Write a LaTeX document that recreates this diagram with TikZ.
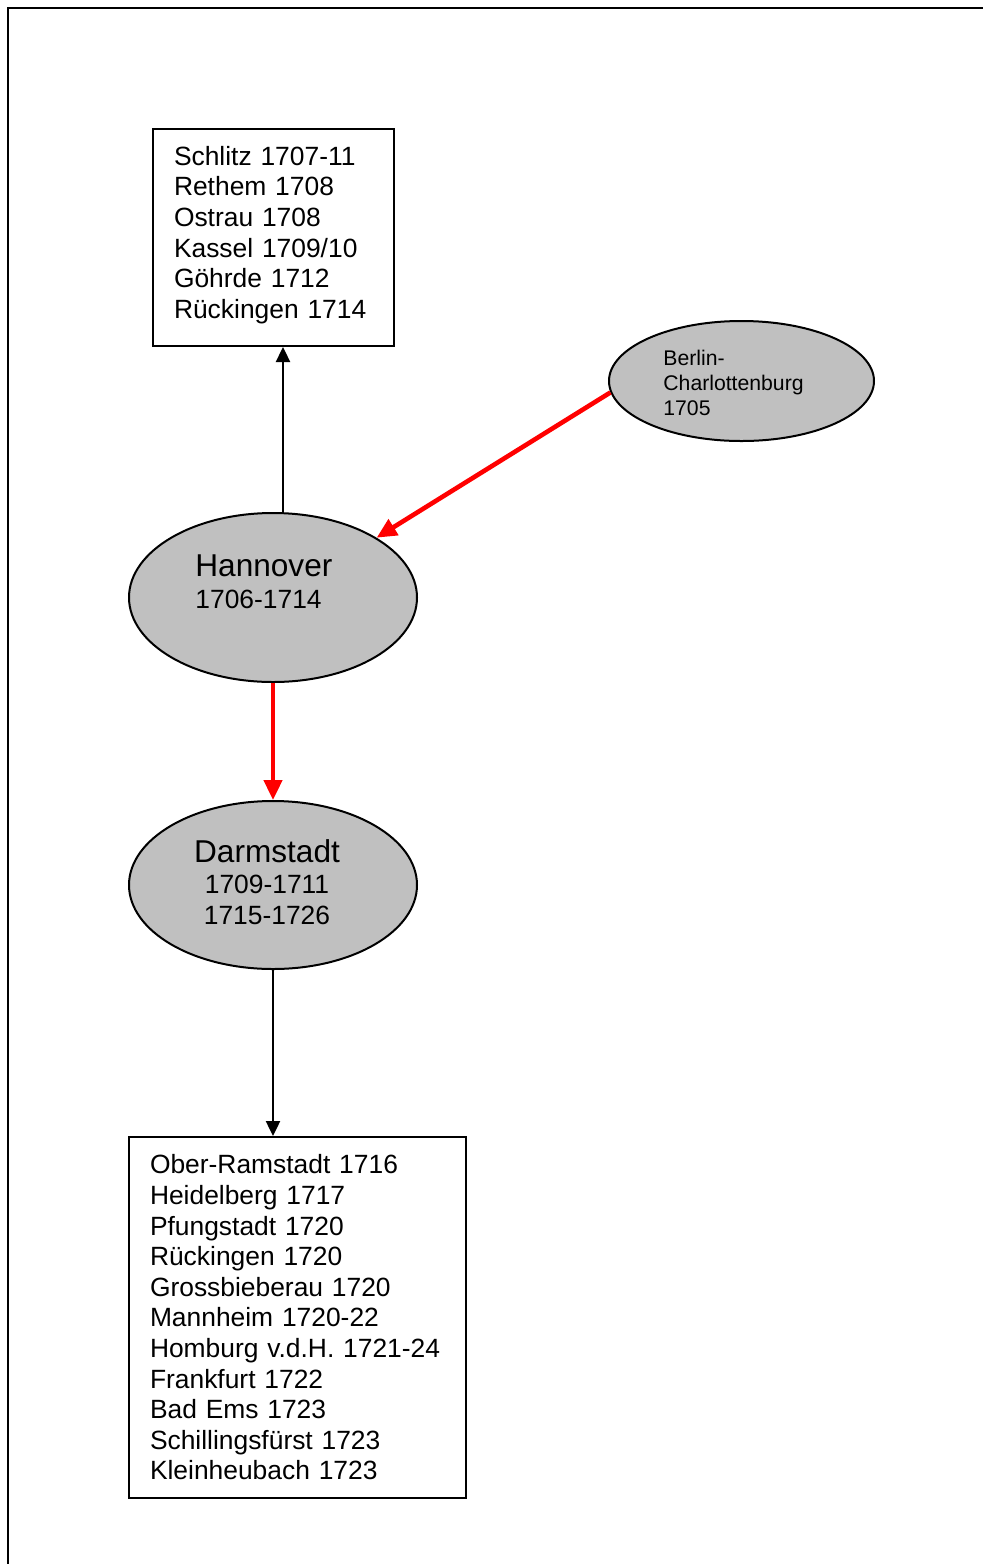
\documentclass[tikz,border=0pt]{standalone}
\usepackage{fontspec}
\setmainfont{Liberation Sans}
\usetikzlibrary{arrows.meta,positioning}
\usetikzlibrary{shapes.geometric}
\definecolor{oval}{HTML}{C0C0C0}

\begin{document}
\begin{tikzpicture}[x=0.5pt,y=-0.5pt]

	\tikzstyle{city}=[ellipse,draw=black,fill=oval,line width=1pt,inner sep=0pt]
	\tikzstyle{trips}=[rectangle,draw=black,line width=1pt,align=left,inner xsep=10.5pt,font=\fontsize{13.2pt}{15.3pt}\selectfont]
	\tikzstyle{cityname}=[inner sep=0pt,align=left,anchor=west]
	\tikzstyle{visit}=[-{Triangle[length=7.5pt,width=7pt]},line width=1.2pt,draw=black]
	\tikzstyle{move}=[-{Triangle[length=10pt,width=9pt]},line width=2.3pt,draw=red]

	\useasboundingbox (0,0) rectangle (983,1564);
	\draw [line width=1pt] (8,1564) -- (8,8) -- (983,8);

	\node [city,minimum width=144pt,minimum height=84.5pt] (0) at (273,597.5) {};
	\node [trips,text width=99.5pt,minimum height=108.5pt] (1) at (273.5,237.5)
		{Schlitz 1707-11\\Rethem 1708\\Ostrau 1708\\Kassel 1709/10\\Göhrde 1712\\Rückingen 1714\par\kern2.5pt\hrule height 0pt};
	\node [city,minimum width=132.5pt,minimum height=60pt] (2) at (741.5,381) {};
	\node [city,minimum width=144pt,minimum height=84pt] (3) at (273,885) {};
	\node [trips,text width=147.5pt,minimum height=180.5pt] (4) at (297.5,1317.5)
		{Ober-Ramstadt 1716\\Heidelberg 1717\\Pfungstadt 1720\\Rückingen 1720\\Grossbieberau 1720\\Mannheim 1720-22\\Homburg v.d.H. 1721-24\\Frankfurt 1722\\Bad Ems 1723\\Schillingsfürst 1723\\Kleinheubach 1723};

	\node [cityname,font=\fontsize{13.2pt}{16pt}\selectfont] (0l) at (195,582)
		{{\fontsize{15.8pt}{16pt}\selectfont Hannover}\\1706-1714};
	\node [cityname,font=\fontsize{10.6pt}{12.5pt}\selectfont] (2l) at (663,383)
		{Berlin-\\Charlottenburg\\1705};
	\node [inner sep=0pt,align=center,font=\fontsize{13.2pt}{15.5pt}\selectfont] (3l) at (267,882)
		{{\fontsize{15.8pt}{16.5pt}\selectfont Darmstadt}\\1709-1711\\1715-1726};

		\path	([xshift=5pt]0.north)	edge [visit] ([xshift=5pt]0.north |- 1.south)
		(2.185)	edge [move] (0.30)
		(0)	edge [move] (3)
		(3)	edge [visit] (3.south |- 4.north);
\end{tikzpicture}
\end{document}
